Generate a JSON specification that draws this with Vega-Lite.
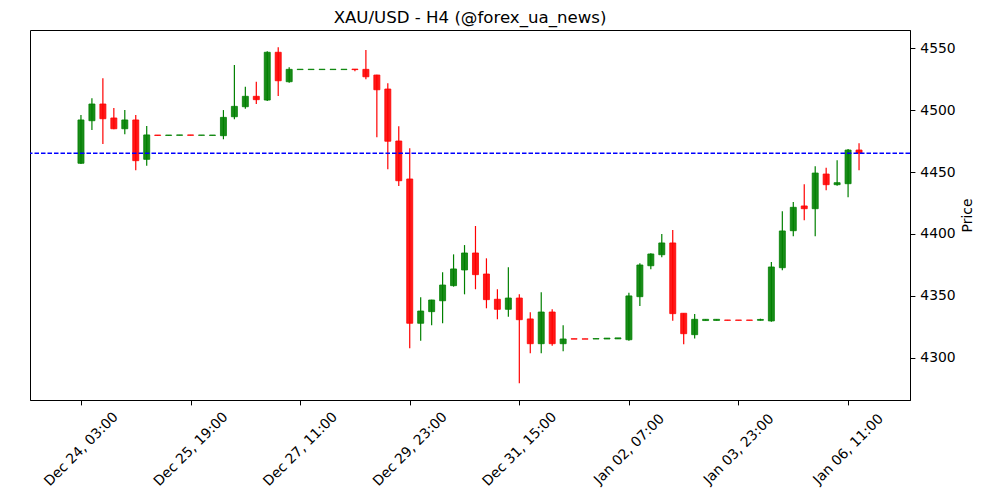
{
  "$schema": "https://vega.github.io/schema/vega-lite/v6.json",
  "width": 880,
  "height": 370,
  "autosize": {"type": "none"},
  "padding": {"left": 30, "top": 30, "right": 90, "bottom": 100},
  "background": "white",
  "title": {"text": "XAU/USD - H4 (@forex_ua_news)", "font": "DejaVu Sans", "fontSize": 16.6, "fontWeight": "normal", "color": "black", "anchor": "middle", "frame": "group", "baseline": "alphabetic", "offset": -10},
  "config": {
    "view": {"stroke": "black", "strokeWidth": 1},
    "axis": {"grid": false, "domainColor": "black", "tickColor": "black", "labelColor": "black", "titleColor": "black", "labelFont": "DejaVu Sans", "titleFont": "DejaVu Sans", "labelFontSize": 13.9, "titleFontSize": 13.9, "titleFontWeight": "normal", "tickSize": 4.9, "tickWidth": 1, "domainWidth": 1}
  },
  "data": {"values": [
    {"i": 0, "o": 4457.1, "h": 4496.1, "l": 4456.5, "c": 4492.1},
    {"i": 1, "o": 4491.5, "h": 4509.6, "l": 4484.0, "c": 4505.0},
    {"i": 2, "o": 4505.0, "h": 4525.8, "l": 4472.7, "c": 4493.1},
    {"i": 3, "o": 4493.7, "h": 4501.8, "l": 4484.6, "c": 4485.0},
    {"i": 4, "o": 4485.0, "h": 4500.1, "l": 4480.5, "c": 4492.1},
    {"i": 5, "o": 4492.1, "h": 4496.1, "l": 4451.4, "c": 4459.2},
    {"i": 6, "o": 4460.3, "h": 4487.2, "l": 4455.1, "c": 4480.0},
    {"i": 7, "o": 4479.9, "h": 4479.9, "l": 4479.6, "c": 4479.6},
    {"i": 8, "o": 4479.6, "h": 4479.9, "l": 4479.6, "c": 4479.9},
    {"i": 9, "o": 4479.7, "h": 4480.0, "l": 4479.7, "c": 4480.0},
    {"i": 10, "o": 4480.0, "h": 4480.0, "l": 4479.7, "c": 4479.7},
    {"i": 11, "o": 4479.7, "h": 4479.9, "l": 4479.7, "c": 4479.9},
    {"i": 12, "o": 4479.6, "h": 4479.9, "l": 4479.6, "c": 4479.9},
    {"i": 13, "o": 4479.4, "h": 4500.1, "l": 4476.5, "c": 4494.2},
    {"i": 14, "o": 4494.7, "h": 4536.5, "l": 4492.6, "c": 4503.1},
    {"i": 15, "o": 4502.8, "h": 4519.0, "l": 4501.2, "c": 4511.2},
    {"i": 16, "o": 4511.2, "h": 4523.0, "l": 4505.0, "c": 4508.5},
    {"i": 17, "o": 4508.2, "h": 4547.6, "l": 4507.4, "c": 4546.8},
    {"i": 18, "o": 4546.8, "h": 4550.8, "l": 4511.5, "c": 4523.8},
    {"i": 19, "o": 4523.0, "h": 4534.6, "l": 4522.2, "c": 4533.0},
    {"i": 20, "o": 4532.8, "h": 4533.1, "l": 4532.8, "c": 4533.1},
    {"i": 21, "o": 4532.8, "h": 4533.1, "l": 4532.8, "c": 4533.1},
    {"i": 22, "o": 4532.8, "h": 4533.1, "l": 4532.8, "c": 4533.1},
    {"i": 23, "o": 4532.8, "h": 4533.1, "l": 4532.8, "c": 4533.1},
    {"i": 24, "o": 4532.8, "h": 4533.1, "l": 4532.8, "c": 4533.1},
    {"i": 25, "o": 4533.2, "h": 4533.3, "l": 4531.5, "c": 4532.8},
    {"i": 26, "o": 4533.0, "h": 4548.6, "l": 4525.0, "c": 4527.0},
    {"i": 27, "o": 4528.4, "h": 4528.6, "l": 4478.1, "c": 4516.5},
    {"i": 28, "o": 4517.1, "h": 4521.7, "l": 4452.2, "c": 4474.9},
    {"i": 29, "o": 4475.1, "h": 4487.0, "l": 4438.7, "c": 4443.0},
    {"i": 30, "o": 4444.4, "h": 4469.2, "l": 4307.6, "c": 4327.8},
    {"i": 31, "o": 4327.8, "h": 4348.8, "l": 4313.7, "c": 4337.7},
    {"i": 32, "o": 4337.2, "h": 4346.8, "l": 4326.2, "c": 4346.6},
    {"i": 33, "o": 4346.0, "h": 4369.0, "l": 4327.8, "c": 4358.7},
    {"i": 34, "o": 4358.2, "h": 4383.5, "l": 4357.4, "c": 4371.7},
    {"i": 35, "o": 4370.9, "h": 4391.0, "l": 4351.2, "c": 4384.6},
    {"i": 36, "o": 4384.6, "h": 4406.4, "l": 4355.3, "c": 4367.1},
    {"i": 37, "o": 4367.6, "h": 4380.3, "l": 4339.9, "c": 4346.9},
    {"i": 38, "o": 4347.2, "h": 4355.3, "l": 4331.0, "c": 4339.1},
    {"i": 39, "o": 4339.1, "h": 4373.0, "l": 4333.1, "c": 4348.2},
    {"i": 40, "o": 4348.2, "h": 4351.2, "l": 4279.3, "c": 4330.7},
    {"i": 41, "o": 4331.3, "h": 4336.7, "l": 4303.6, "c": 4311.3},
    {"i": 42, "o": 4311.3, "h": 4352.8, "l": 4303.6, "c": 4336.9},
    {"i": 43, "o": 4336.9, "h": 4339.1, "l": 4309.7, "c": 4311.3},
    {"i": 44, "o": 4311.3, "h": 4326.2, "l": 4305.2, "c": 4315.1},
    {"i": 45, "o": 4315.3, "h": 4315.3, "l": 4315.0, "c": 4315.0},
    {"i": 46, "o": 4315.2, "h": 4315.3, "l": 4315.0, "c": 4315.0},
    {"i": 47, "o": 4315.1, "h": 4315.4, "l": 4315.1, "c": 4315.4},
    {"i": 48, "o": 4315.1, "h": 4315.8, "l": 4315.1, "c": 4315.8},
    {"i": 49, "o": 4315.2, "h": 4316.0, "l": 4315.2, "c": 4316.0},
    {"i": 50, "o": 4314.5, "h": 4352.5, "l": 4313.7, "c": 4349.9},
    {"i": 51, "o": 4349.3, "h": 4376.3, "l": 4341.8, "c": 4374.9},
    {"i": 52, "o": 4374.3, "h": 4384.4, "l": 4371.4, "c": 4383.8},
    {"i": 53, "o": 4383.2, "h": 4400.0, "l": 4381.1, "c": 4392.7},
    {"i": 54, "o": 4392.7, "h": 4403.2, "l": 4329.9, "c": 4335.6},
    {"i": 55, "o": 4335.9, "h": 4336.0, "l": 4310.8, "c": 4319.4},
    {"i": 56, "o": 4318.6, "h": 4335.3, "l": 4315.4, "c": 4331.0},
    {"i": 57, "o": 4330.0, "h": 4331.0, "l": 4330.0, "c": 4331.0},
    {"i": 58, "o": 4330.1, "h": 4331.0, "l": 4330.1, "c": 4331.0},
    {"i": 59, "o": 4330.4, "h": 4330.5, "l": 4330.1, "c": 4330.2},
    {"i": 60, "o": 4330.4, "h": 4330.4, "l": 4330.2, "c": 4330.2},
    {"i": 61, "o": 4330.4, "h": 4330.4, "l": 4330.2, "c": 4330.2},
    {"i": 62, "o": 4330.2, "h": 4331.5, "l": 4330.0, "c": 4330.9},
    {"i": 63, "o": 4329.7, "h": 4377.3, "l": 4329.1, "c": 4373.3},
    {"i": 64, "o": 4372.7, "h": 4418.3, "l": 4370.6, "c": 4402.4},
    {"i": 65, "o": 4402.6, "h": 4425.8, "l": 4398.1, "c": 4421.5},
    {"i": 66, "o": 4422.6, "h": 4440.1, "l": 4411.0, "c": 4420.4},
    {"i": 67, "o": 4420.4, "h": 4454.7, "l": 4398.1, "c": 4449.2},
    {"i": 68, "o": 4448.4, "h": 4453.5, "l": 4435.3, "c": 4439.8},
    {"i": 69, "o": 4439.8, "h": 4459.5, "l": 4439.0, "c": 4441.4},
    {"i": 70, "o": 4440.6, "h": 4468.6, "l": 4429.6, "c": 4467.8},
    {"i": 71, "o": 4467.8, "h": 4473.2, "l": 4451.4, "c": 4465.2}
  ]},
  "layer": [
    {
      "mark": {"type": "rule", "strokeWidth": 1.2},
      "encoding": {
        "x": {"field": "i", "type": "quantitative", "scale": {"domain": [-4.65, 75.65], "nice": false, "zero": false, "padding": 0},
          "axis": {"values": [0, 10, 20, 30, 40, 50, 60, 70], "title": null, "labelAngle": -45, "labelAlign": "center", "labelBaseline": "middle", "labelPadding": 44, "labelOverlap": false, "labelFlush": false, "labelBound": false,
            "labelExpr": "['Dec 24, 03:00','Dec 25, 19:00','Dec 27, 11:00','Dec 29, 23:00','Dec 31, 15:00','Jan 02, 07:00','Jan 03, 23:00','Jan 06, 11:00'][round(datum.value/10)]"}},
        "y": {"field": "l", "type": "quantitative", "title": "Price", "scale": {"domain": [4265.8, 4564.8], "nice": false, "zero": false, "padding": 0},
          "axis": {"orient": "right", "values": [4300, 4350, 4400, 4450, 4500, 4550], "format": "d", "labelPadding": 4.9, "labelAlign": "left", "labelBaseline": "middle", "titleAngle": 270, "titleAlign": "center", "titleBaseline": "middle", "titleX": 57, "titleY": 185}},
        "y2": {"field": "h"},
        "color": {"condition": {"test": "datum.c >= datum.o", "value": "#008000"}, "value": "#ff0000"}
      }
    },
    {
      "mark": {"type": "bar", "size": 6, "strokeWidth": 0.8, "fillOpacity": 0.9},
      "encoding": {
        "x": {"field": "i", "type": "quantitative"},
        "y": {"field": "o", "type": "quantitative", "title": "Price"},
        "y2": {"field": "c"},
        "fill": {"condition": {"test": "datum.c >= datum.o", "value": "#008000"}, "value": "#ff0000"},
        "stroke": {"condition": {"test": "datum.c >= datum.o", "value": "#008000"}, "value": "#ff0000"}
      }
    },
    {
      "data": {"values": [{"p": 4465.2}]},
      "mark": {"type": "rule", "color": "#0000ff", "strokeDash": [4.5, 2], "strokeWidth": 1.3},
      "encoding": {"y": {"field": "p", "type": "quantitative", "title": "Price"}}
    }
  ]
}
